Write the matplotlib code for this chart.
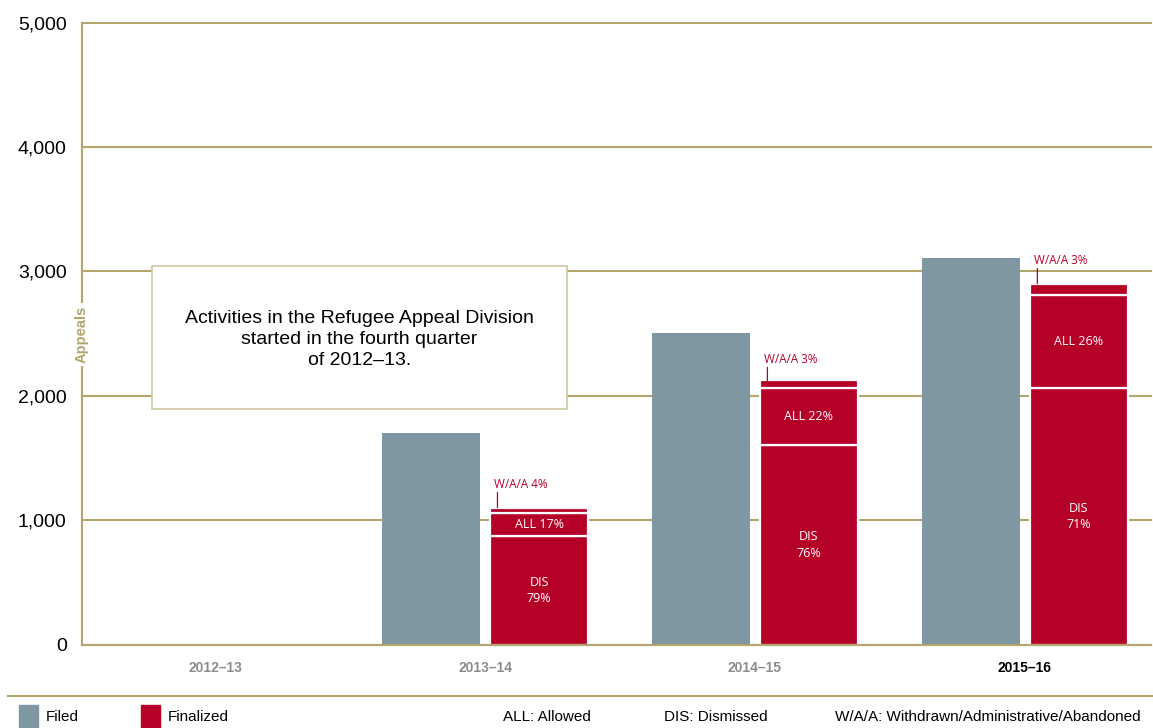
import matplotlib
matplotlib.use('Agg')
import matplotlib.pyplot as plt
from matplotlib.patches import Rectangle
from matplotlib.lines import Line2D
import numpy as np

# data
years = ['2012\u201313', '2013\u201314', '2014\u201315', '2015\u201316']
filed = [0, 1700, 2505, 3105]
finalized = [0, 1100, 2105, 2900]
dis_pct = [0, 79, 76, 71]
all_pct = [0, 17, 22, 26]
waa_pct = [0, 4, 3, 3]
yticks = [0, 1000, 2000, 3000, 4000, 5000]
note = 'Activities in the Refugee Appeal Division\nstarted in the fourth quarter\nof 2012\u201313.'

OLIVE = '#b3a56b'
GREY = '#7f97a2'
RED = '#b50028'
BODY = ['Liberation Sans', 'DejaVu Sans']
SMALL = ['Open Sans', 'DejaVu Sans']

fig = plt.figure(figsize=(11.53, 7.28), dpi=100)
ax = fig.add_axes([82/1153, 83.5/728, 1069/1153, 622/728])

x = np.arange(len(years))
w = 0.36
off = 0.2

# only years with activity get bars
has = np.array(finalized) > 0
xs = x[has]
ax.bar(xs - off, np.array(filed)[has], w, color=GREY, zorder=3)

fin = np.array(finalized, dtype=float)[has]
dis = fin * np.array(dis_pct)[has] / 100
alw = fin * np.array(all_pct)[has] / 100
waa = fin * np.array(waa_pct)[has] / 100
kw = dict(width=w, color=RED, edgecolor='white', linewidth=1.6, zorder=3)
ax.bar(xs + off, dis, **kw)
ax.bar(xs + off, alw, bottom=dis, **kw)
ax.bar(xs + off, waa, bottom=dis + alw, **kw)

for j, i in enumerate(np.where(has)[0]):
    xc = x[i] + off
    ax.text(xc, dis[j] / 2, 'DIS\n%d%%' % dis_pct[i], color='white', ha='center', va='center',
            fontsize=9, family=SMALL, linespacing=1.35, zorder=4)
    ax.text(xc, dis[j] + alw[j] / 2, 'ALL %d%%' % all_pct[i], color='white', ha='center', va='center',
            fontsize=9, family=SMALL, zorder=4)
    lx = xc - w / 2 + 0.026
    ax.annotate('', xy=(lx, fin[j]), xytext=(0, 11), textcoords='offset points',
                arrowprops=dict(arrowstyle='-', color=RED, lw=0.9, shrinkA=0, shrinkB=0), zorder=4)
    ax.annotate('W/A/A %d%%' % waa_pct[i], xy=(lx, fin[j]), xytext=(-2.5, 12), textcoords='offset points',
                color=RED, fontsize=8.5, family=SMALL, ha='left', va='bottom')

ax.set_xlim(-0.493, 3.467)
ax.set_ylim(0, 5000)
ax.set_yticks(yticks)
ax.set_yticklabels(['{:,}'.format(v) for v in yticks], fontsize=14, family=BODY)
ax.set_xticks(x)
ax.set_xticklabels(years, fontsize=10, family=BODY, fontweight='bold', color='#8c8c8c')
ax.get_xticklabels()[-1].set_color('black')
ax.tick_params(axis='y', length=0, pad=11)
ax.tick_params(axis='x', length=0, pad=12)

ax.grid(axis='y', color=OLIVE, lw=1.5, zorder=0)
for gl in ax.get_ygridlines():
    gl.set_clip_on(False)
ax.set_axisbelow(True)
for s in ['top', 'right']:
    ax.spines[s].set_visible(False)
for s in ['left', 'bottom']:
    ax.spines[s].set_color(OLIVE)
    ax.spines[s].set_linewidth(1.5)
    ax.spines[s].set_zorder(4)

ax.text(0, 2490, 'Appeals', transform=ax.get_yaxis_transform(), rotation=90, ha='center', va='center',
        color=OLIVE, fontsize=10.5, fontweight='bold', family=BODY,
        bbox=dict(facecolor='white', edgecolor='none', pad=2), zorder=6)

# note box
ax.add_patch(Rectangle((-0.233, 1893), 1.537, 1150, facecolor='white', edgecolor='#cfc6a0', lw=1.2, zorder=5))
ax.text(0.535, 2450, note, ha='center', va='center', fontsize=14, family=BODY, linespacing=1.3, zorder=6)

# legend strip
fig.add_artist(Line2D([8/1153, 1], [1 - 696/728] * 2, color=OLIVE, lw=1.5, transform=fig.transFigure))
ly = 1 - 717/728
fig.add_artist(Rectangle((19/1153, 0), 19/1153, 23/728, color=GREY, transform=fig.transFigure))
fig.text(46/1153, ly, 'Filed', fontsize=11, family=BODY, va='center')
fig.add_artist(Rectangle((141/1153, 0), 19/1153, 23/728, color=RED, transform=fig.transFigure))
fig.text(168/1153, ly, 'Finalized', fontsize=11, family=BODY, va='center')
fig.text(503/1153, ly, 'ALL: Allowed', fontsize=11, family=BODY, va='center')
fig.text(664/1153, ly, 'DIS: Dismissed', fontsize=11, family=BODY, va='center')
fig.text(835/1153, ly, 'W/A/A: Withdrawn/Administrative/Abandoned', fontsize=11, family=BODY, va='center')

fig.savefig('out.png', dpi=100)
